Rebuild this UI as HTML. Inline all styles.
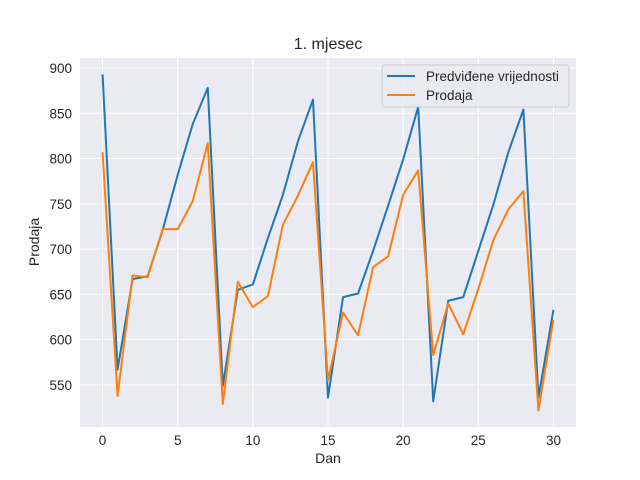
<!DOCTYPE html>
<html><head><meta charset="utf-8"><style>
body{margin:0;background:#fff}
svg{display:block;font-family:"Liberation Sans","DejaVu Sans",sans-serif}
</style></head><body>
<svg id="chart" width="640" height="480">
<rect x="0" y="0" width="640" height="480" fill="#fff"/>
<rect x="80" y="58" width="496" height="369" fill="#EAEAF2"/>
<g id="grid"></g>
<g id="ticks"></g>
<g id="series"></g>
<text x="328" y="49" text-anchor="middle" font-size="16" fill="#262626">1. mjesec</text>
<text x="328" y="463" text-anchor="middle" font-size="14" fill="#262626">Dan</text>
<text x="0" y="0" transform="translate(39,242) rotate(-90)" text-anchor="middle" font-size="14" fill="#262626">Prodaja</text>
<g>
<rect x="382" y="65" width="187" height="42" rx="3" fill="#EAEAF2" fill-opacity="0.8" stroke="#ccc"/>
<line x1="387" y1="76" x2="415" y2="76" stroke="#1f77b4" stroke-width="2"/>
<text x="426" y="81" font-size="13.5" fill="#262626">Predviđene vrijednosti</text>
<line x1="387" y1="95" x2="415" y2="95" stroke="#ff7f0e" stroke-width="2"/>
<text x="426" y="100" font-size="13.5" fill="#262626">Prodaja</text>
</g>
</svg>
<script>
const predicted=[893,567,667,670,721,782,838,878,549,655,661,712,760,819,865,536,647,651,698,748,799,857,532,643,647,698,749,807,854,536,633];
const sales=[807,538,671,669,722,722,753,817,529,664,636,648,727,759,796,555,630,605,680,692,760,787,583,640,606,656,710,744,764,522,622];
const xTicks=[0,5,10,15,20,25,30];
const yTicks=[550,600,650,700,750,800,850,900];
const NS="http://www.w3.org/2000/svg";
const L=80,R=576,T=58,B=427,xMin=-1.5,xMax=31.5,yMin=503.6,yMax=911;
const xs=v=>L+(v-xMin)/(xMax-xMin)*(R-L);
const ys=v=>B-(v-yMin)/(yMax-yMin)*(B-T);
const grid=document.getElementById('grid'),ticks=document.getElementById('ticks'),ser=document.getElementById('series');
function mk(tag,attrs,parent){const e=document.createElementNS(NS,tag);for(const k in attrs)e.setAttribute(k,attrs[k]);parent.appendChild(e);return e;}
xTicks.forEach(t=>{
 const g=mk('line',{x1:xs(t),x2:xs(t),y1:T,y2:B,stroke:'#fff','stroke-width':1},grid);
 
 
 const tx=mk('text',{x:xs(t),y:B+18,'text-anchor':'middle','font-size':13.5,fill:'#262626'},ticks);
 tx.textContent=t;
 
 
});
yTicks.forEach(t=>{
 const g=mk('line',{x1:L,x2:R,y1:ys(t),y2:ys(t),stroke:'#fff','stroke-width':1},grid);
 
 
 const tx=mk('text',{x:L-8,y:ys(t)+5,'text-anchor':'end','font-size':13.5,fill:'#262626'},ticks);
 tx.textContent=t;
 
 
});
function line(arr,color,name){
 const p=mk('polyline',{points:arr.map((v,i)=>xs(i)+','+ys(v)).join(' '),fill:'none',stroke:color,'stroke-width':2,'stroke-linejoin':'round'},ser);
 
 
}
line(predicted,'#1f77b4','predicted-line');
line(sales,'#ff7f0e','sales-line');
</script>
</body></html>
